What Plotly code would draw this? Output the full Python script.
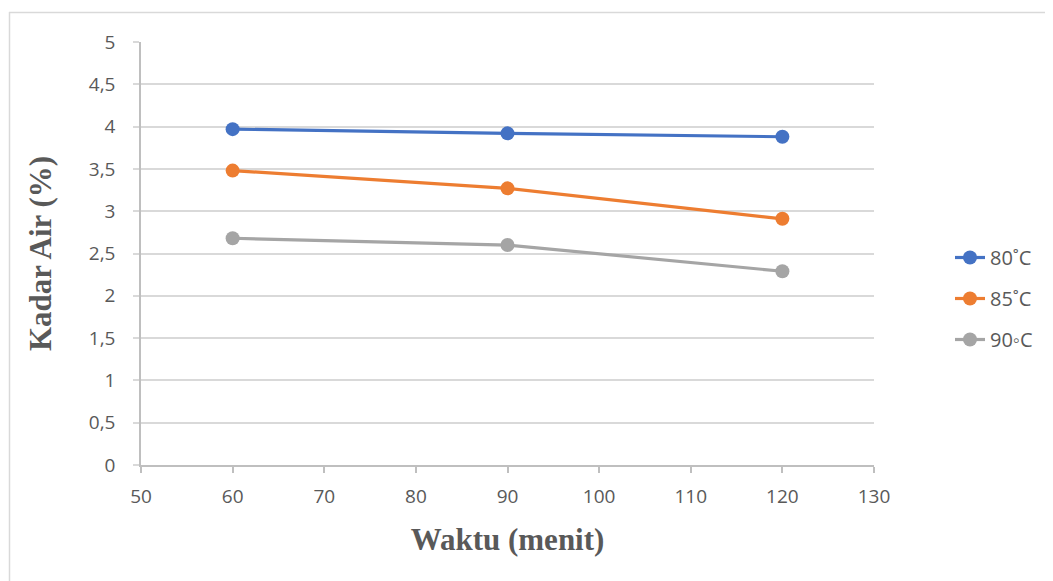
import plotly.graph_objects as go

waktu = [60, 90, 120]
kadar_80 = [3.97, 3.92, 3.88]
kadar_85 = [3.48, 3.27, 2.91]
kadar_90 = [2.68, 2.60, 2.29]
series_names = ["80˚C", "85˚C", "90◦C"]
colors = ["#4472C4", "#ED7D31", "#A5A5A5"]
x_ticks = [50, 60, 70, 80, 90, 100, 110, 120, 130]
y_ticks = [0, 0.5, 1, 1.5, 2, 2.5, 3, 3.5, 4, 4.5, 5]
y_labels = ["0", "0,5", "1", "1,5", "2", "2,5", "3", "3,5", "4", "4,5", "5"]

fig = go.Figure()
for i, (name, vals, c) in enumerate(zip(series_names, [kadar_80, kadar_85, kadar_90], colors)):
    fig.add_trace(go.Scatter(
        x=waktu, y=vals, name=name, mode="lines+markers",
        legendgroup=f"g{i}",
        line=dict(color=c, width=3.2),
        marker=dict(color=c, size=14),
    ))

OFF = 8  # default body margin of the page
W, H = 1053 - OFF, 581 - OFF
L, R, T, B = 141 - OFF, 874 - OFF, 42 - OFF, 465 - OFF
pw, ph = R - L, B - T

def px(xp):
    return (xp - OFF - L) / pw

def py(yp):
    return (B - (yp - OFF)) / ph

title_font = dict(family="Liberation Serif, Times New Roman, serif", size=31, color="#595959")

fig.update_layout(
    width=W, height=H,
    margin=dict(l=L, r=W - R, t=T, b=H - B, autoexpand=False),
    paper_bgcolor="white", plot_bgcolor="white",
    font=dict(family="Open Sans, sans-serif", size=19, color="#595959"),
    showlegend=True,
    legend=dict(
        x=px(950), y=py(238), xanchor="left", yanchor="top",
        font=dict(size=20, color="#595959"),
        tracegroupgap=12, traceorder="grouped",
        bgcolor="rgba(0,0,0,0)",
    ),
    xaxis=dict(
        range=[50, 130], tickvals=x_ticks, ticktext=[str(v) for v in x_ticks],
        showgrid=False, zeroline=False,
        showline=True, linecolor="#BFBFBF", linewidth=1.5,
        ticks="outside", ticklen=6, tickcolor="#BFBFBF", tickwidth=1.5,
        ticklabelstandoff=7,
        tickfont=dict(size=19, color="#595959"),
        title=dict(text="<b>Waktu (menit)</b>", standoff=21, font=title_font),
    ),
    yaxis=dict(
        range=[0, 5], tickvals=y_ticks, ticktext=y_labels,
        showgrid=True, gridcolor="#D9D9D9", gridwidth=1.5, zeroline=False,
        showline=True, linecolor="#BFBFBF", linewidth=1.5,
        ticks="outside", ticklen=6, tickcolor="#D9D9D9", tickwidth=1.5,
        ticklabelstandoff=14,
        tickfont=dict(size=19, color="#595959"),
        title=dict(text="<b>Kadar Air (%)</b>", standoff=28, font=title_font),
    ),
    shapes=[
        dict(type="line", xref="paper", yref="paper",
             x0=px(9), x1=px(1060), y0=py(12.5), y1=py(12.5),
             line=dict(color="#D9D9D9", width=1.5)),
        dict(type="line", xref="paper", yref="paper",
             x0=px(9.5), x1=px(9.5), y0=py(12), y1=py(590),
             line=dict(color="#D9D9D9", width=1.5)),
    ],
)

fig.write_html("out.html")
